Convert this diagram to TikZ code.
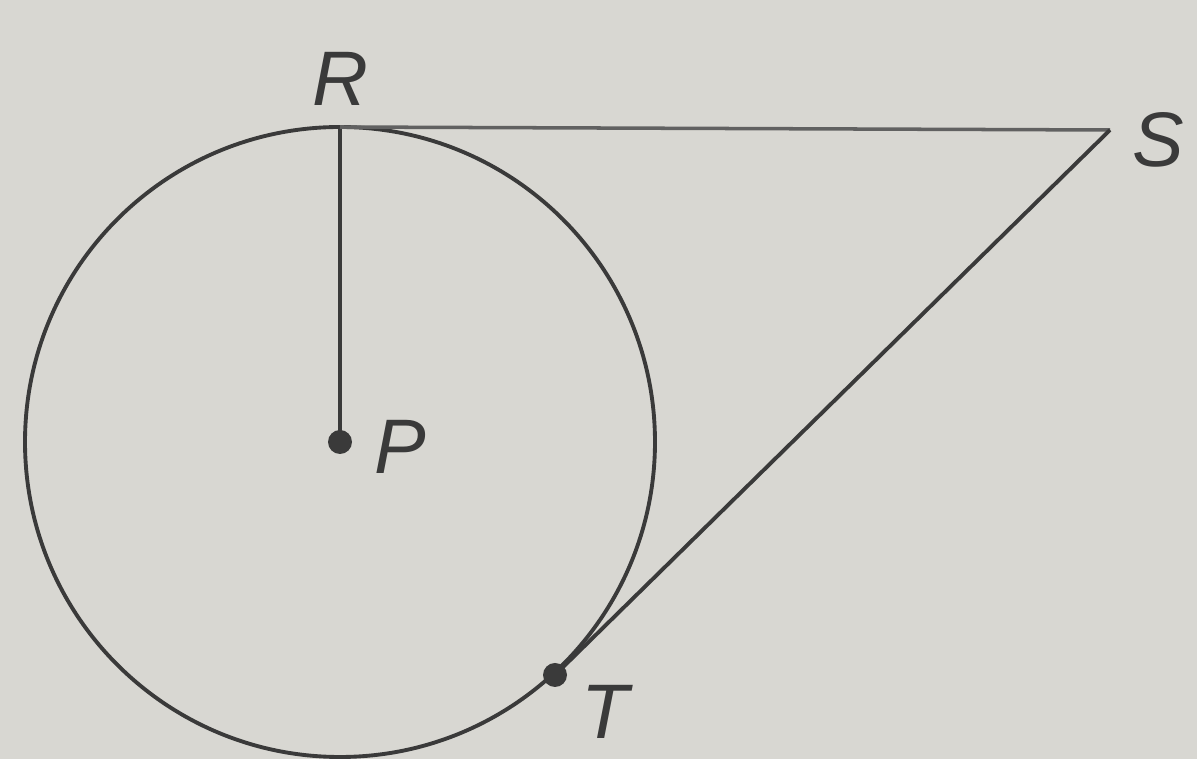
\documentclass[tikz,border=0pt]{standalone}
\usepackage{fontspec}
\setsansfont{Liberation Sans}
\definecolor{bg}{HTML}{D8D7D2}
\definecolor{ink}{HTML}{3A3A3A}
\begin{document}
\begin{tikzpicture}
\useasboundingbox[fill=bg] (0,0) rectangle (11.97,7.59);
\tikzset{lbl/.style={font=\fontsize{22}{26}\selectfont\sffamily\itshape, text=ink},
         dotpt/.style={circle, fill=ink, inner sep=0pt, minimum size=0.24cm},
         seg/.style={draw=ink, line width=1.1pt}}
\coordinate (P) at (3.40,3.17);
\coordinate (R) at (3.40,6.32);
\coordinate (S) at (11.10,6.29);
\coordinate (T) at (5.55,0.84);
\draw[seg] (P) circle (3.15);
\draw[seg] (R) -- (P);
\draw[draw=ink!80, line width=1pt] (R) -- (S);
\draw[seg] (S) -- (T);
\node[dotpt] (Pd) at (P) {};
\node[dotpt] (Td) at (T) {};
\node[lbl] (Rl) at (3.40,6.80) {R};
\node[lbl] (Sl) at (11.58,6.19) {S};
\node[lbl] (Pl) at (4.00,3.12) {P};
\node[lbl] (Tl) at (6.05,0.47) {T};
\end{tikzpicture}
\end{document}
